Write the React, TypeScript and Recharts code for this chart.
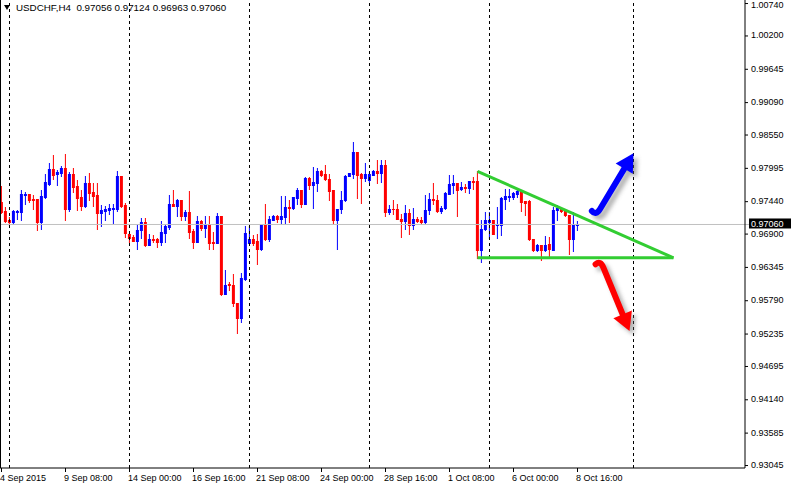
import { ComposedChart, Bar, XAxis, YAxis, ReferenceLine } from 'recharts'

const SYMBOL = 'USDCHF,H4'
const LAST_BAR = ['0.97056', '0.97124', '0.96963', '0.97060']

// open, high, low, close per H4 bar, starting 4 Sep 2015 16:00
const OHLC: [number, number, number, number][] = [
  [0.97433, 0.97695, 0.9725, 0.97267], [0.97278, 0.9735, 0.971, 0.97117], [0.97128, 0.97183, 0.97044, 0.971],
  [0.971, 0.97306, 0.97072, 0.97278], [0.97267, 0.97306, 0.97155, 0.97278], [0.97267, 0.97628, 0.97128, 0.97561],
  [0.97556, 0.976, 0.97406, 0.97567], [0.97561, 0.97561, 0.97433, 0.97461], [0.97489, 0.97545, 0.97311, 0.97467],
  [0.97478, 0.97478, 0.96961, 0.971], [0.971, 0.97639, 0.96983, 0.97528], [0.97517, 0.97906, 0.975, 0.97761],
  [0.97739, 0.98084, 0.97711, 0.97978], [0.97978, 0.98212, 0.97817, 0.97884], [0.979, 0.97962, 0.97723, 0.97928],
  [0.97917, 0.98028, 0.97867, 0.97995], [0.97995, 0.98228, 0.97128, 0.97311], [0.97311, 0.97934, 0.97278, 0.97895],
  [0.97895, 0.97995, 0.97595, 0.97684], [0.97695, 0.97795, 0.97306, 0.975], [0.97511, 0.97628, 0.97306, 0.97367],
  [0.97367, 0.97862, 0.9735, 0.97745], [0.97745, 0.97923, 0.97461, 0.97584], [0.97595, 0.9775, 0.97361, 0.97533],
  [0.97545, 0.97756, 0.96983, 0.97244], [0.97244, 0.97378, 0.97027, 0.97294], [0.97283, 0.97361, 0.97128, 0.97311],
  [0.97294, 0.97406, 0.97228, 0.97328], [0.97317, 0.97406, 0.97089, 0.97328], [0.97311, 0.97945, 0.97283, 0.97862],
  [0.97862, 0.97862, 0.9735, 0.97367], [0.97378, 0.97417, 0.9685, 0.96916], [0.96905, 0.96916, 0.96761, 0.96833],
  [0.9685, 0.96888, 0.96783, 0.96783], [0.96783, 0.97072, 0.9665, 0.96972], [0.96961, 0.97172, 0.96833, 0.97094],
  [0.97094, 0.97172, 0.96694, 0.96711], [0.96716, 0.96894, 0.96716, 0.9681], [0.96816, 0.96882, 0.96761, 0.96794],
  [0.96816, 0.96838, 0.96683, 0.96766], [0.96766, 0.97111, 0.96716, 0.96927], [0.96916, 0.97072, 0.96766, 0.97027],
  [0.97011, 0.97545, 0.96977, 0.97394], [0.97394, 0.97628, 0.97361, 0.97367], [0.97361, 0.97478, 0.97194, 0.97461],
  [0.97461, 0.97461, 0.97128, 0.97194], [0.97194, 0.973, 0.97128, 0.97261], [0.97261, 0.97611, 0.96838, 0.96927],
  [0.96944, 0.96983, 0.96666, 0.96761], [0.96761, 0.97194, 0.96761, 0.97111], [0.97111, 0.97128, 0.96961, 0.96994],
  [0.96994, 0.97194, 0.9685, 0.97061], [0.97061, 0.97194, 0.96655, 0.96744], [0.96766, 0.96927, 0.96655, 0.96749],
  [0.96744, 0.97244, 0.96744, 0.97194], [0.97194, 0.97194, 0.95893, 0.9591], [0.95899, 0.96294, 0.95899, 0.9606],
  [0.96071, 0.96105, 0.95966, 0.96049], [0.9606, 0.96238, 0.95699, 0.95749], [0.9576, 0.9576, 0.95248, 0.95499],
  [0.95499, 0.96249, 0.95432, 0.96166], [0.96149, 0.97027, 0.96132, 0.9691], [0.96749, 0.97027, 0.96749, 0.96826],
  [0.96826, 0.96877, 0.96711, 0.96755], [0.96777, 0.96894, 0.96399, 0.9665], [0.96644, 0.97044, 0.96627, 0.97044],
  [0.97044, 0.97406, 0.96794, 0.96822], [0.96822, 0.97194, 0.96777, 0.97155], [0.97139, 0.97211, 0.97128, 0.97194],
  [0.97194, 0.97211, 0.971, 0.9715], [0.9715, 0.97528, 0.97072, 0.97194], [0.97183, 0.97528, 0.97072, 0.9735],
  [0.97345, 0.97461, 0.971, 0.97333], [0.97339, 0.97517, 0.97322, 0.97517], [0.97506, 0.97667, 0.97406, 0.97628],
  [0.97628, 0.97639, 0.9735, 0.97406], [0.97406, 0.9785, 0.97406, 0.97834], [0.97834, 0.9785, 0.97656, 0.97711],
  [0.97711, 0.98017, 0.97333, 0.97767], [0.9775, 0.98006, 0.97611, 0.97945], [0.97945, 0.97973, 0.97867, 0.97878],
  [0.97895, 0.98045, 0.97795, 0.97811], [0.97823, 0.97906, 0.97461, 0.97617], [0.97628, 0.97628, 0.97072, 0.97128],
  [0.97128, 0.97322, 0.96644, 0.97322], [0.97317, 0.97617, 0.9725, 0.97472], [0.97461, 0.97878, 0.97445, 0.97862],
  [0.97862, 0.97923, 0.97862, 0.97923], [0.97906, 0.98434, 0.97834, 0.98267], [0.98267, 0.98267, 0.975, 0.97889],
  [0.97906, 0.97917, 0.97417, 0.97834], [0.97834, 0.98089, 0.97784, 0.97895], [0.97806, 0.97934, 0.97767, 0.97895],
  [0.97889, 0.97973, 0.97878, 0.97945], [0.97945, 0.98139, 0.97756, 0.97922], [0.97917, 0.98128, 0.97767, 0.98045],
  [0.98045, 0.98128, 0.972, 0.97267], [0.97267, 0.97378, 0.97239, 0.97322], [0.97322, 0.97472, 0.97239, 0.97311],
  [0.97322, 0.97405, 0.97144, 0.97155], [0.97155, 0.97239, 0.9685, 0.97111], [0.97116, 0.97378, 0.96978, 0.9725],
  [0.9725, 0.97322, 0.96905, 0.97044], [0.97044, 0.97339, 0.96989, 0.97155], [0.97155, 0.97183, 0.971, 0.97116],
  [0.97127, 0.97183, 0.97072, 0.971], [0.971, 0.97544, 0.97083, 0.97306], [0.97306, 0.97589, 0.97228, 0.97489],
  [0.97489, 0.9775, 0.97394, 0.97461], [0.97472, 0.97544, 0.97267, 0.97278], [0.97278, 0.97361, 0.9725, 0.97333],
  [0.97333, 0.976, 0.97322, 0.97583], [0.97572, 0.9788, 0.97561, 0.97739], [0.97722, 0.97889, 0.97583, 0.9775],
  [0.9775, 0.9775, 0.97194, 0.97639], [0.97656, 0.97767, 0.97639, 0.97683], [0.97683, 0.97739, 0.976, 0.97672],
  [0.97672, 0.97778, 0.97583, 0.97778], [0.97778, 0.9785, 0.97656, 0.97767], [0.97778, 0.97945, 0.96505, 0.96627],
  [0.96627, 0.97127, 0.96433, 0.96988], [0.96977, 0.97266, 0.96961, 0.97138], [0.971, 0.97266, 0.96838, 0.97127],
  [0.97127, 0.97138, 0.96894, 0.96905], [0.97044, 0.9735, 0.96838, 0.97072], [0.97055, 0.97516, 0.96877, 0.975],
  [0.97478, 0.97644, 0.97322, 0.97533], [0.97516, 0.97655, 0.9745, 0.97533], [0.97516, 0.976, 0.97489, 0.97583],
  [0.97561, 0.97655, 0.97516, 0.97617], [0.97617, 0.97639, 0.97283, 0.97433], [0.9745, 0.9745, 0.97211, 0.97422],
  [0.9745, 0.97461, 0.96805, 0.96816], [0.96822, 0.96822, 0.96616, 0.96627], [0.96627, 0.96738, 0.96616, 0.9671],
  [0.9671, 0.9671, 0.96461, 0.96627], [0.96627, 0.96861, 0.96616, 0.96721], [0.96738, 0.9685, 0.96505, 0.96655],
  [0.96638, 0.9735, 0.96638, 0.97294], [0.97294, 0.97377, 0.97138, 0.97333], [0.97338, 0.9735, 0.97266, 0.97277],
  [0.97294, 0.97305, 0.97194, 0.97211], [0.97211, 0.97222, 0.96561, 0.96816], [0.96816, 0.97266, 0.96616, 0.97055],
  [0.97056, 0.97124, 0.96963, 0.9706],
]

const SLOTS = 186 // bars plus empty space on the right
const TIME_TICKS = [0, 16, 32, 48, 64, 80, 96, 112, 128, 144]
const TIME_LABELS = [
  '4 Sep 2015', '9 Sep 08:00', '14 Sep 00:00', '16 Sep 16:00', '21 Sep 08:00',
  '24 Sep 00:00', '28 Sep 16:00', '1 Oct 08:00', '6 Oct 00:00', '8 Oct 16:00',
]
const PRICE_TICKS = [
  1.0074, 1.002, 0.99645, 0.9909, 0.9855, 0.97995, 0.9744, 0.969,
  0.96345, 0.9579, 0.95235, 0.94695, 0.9414, 0.93585, 0.93045,
]
const PRICE_DOMAIN: [number, number] = [0.93004, 1.00799]
const SEPARATORS = [2, 32, 62, 92, 122, 158]
const CURRENT_PRICE = 0.9706
const RESISTANCE = [{ x: 119, y: 0.97945 }, { x: 168, y: 0.96505 }]
const SUPPORT = [{ x: 119, y: 0.96505 }, { x: 168, y: 0.96505 }]
const UP_ARROW = [{ x: 149, y: 0.97247 }, { x: 158, y: 0.98246 }]
const DOWN_ARROW = [{ x: 150, y: 0.96419 }, { x: 157, y: 0.95286 }]

const BULL = '#0000ff'
const BEAR = '#ff0000'
const FONT = '"Liberation Sans", Arial, sans-serif'

const data = Array.from({ length: SLOTS }, (_, i) => {
  const c = OHLC[i]
  if (!c) return { idx: i, range: null }
  return { idx: i, open: c[0], high: c[1], low: c[2], close: c[3], range: [c[2], c[1]] }
})

function Candle(props: any) {
  const { x, y, width, height, payload } = props
  if (!payload || payload.range == null) return null
  const lo = payload.low
  const hi = payload.high
  const cx = x + width / 2
  const py = (p: number) => (hi === lo ? y : y + ((hi - p) / (hi - lo)) * height)
  const up = payload.close >= payload.open
  const color = up ? BULL : BEAR
  const wTop = Math.round(y)
  const wBot = Math.round(y + height)
  const bTop = Math.round(py(Math.max(payload.open, payload.close)))
  const bBot = Math.round(py(Math.min(payload.open, payload.close)))
  return (
    <g>
      <rect x={cx - 0.5} y={wTop} width={1} height={wBot - wTop + 1} fill={color} />
      <rect x={cx - 1.5} y={bTop} width={3} height={bBot - bTop + 1} fill={color} />
    </g>
  )
}

function arrowShape(color: string, hook: number, id: string) {
  return (p: any) => {
    const { x1, y1, x2, y2 } = p
    const dx = x2 - x1
    const dy = y2 - y1
    const len = Math.hypot(dx, dy) || 1
    const ux = dx / len
    const uy = dy / len
    const nx = -uy
    const ny = ux
    const headLen = 18
    const headW = 10
    const bx = x2 - ux * headLen
    const by = y2 - uy * headLen
    const hx = x1 + hook * nx * 6 - ux * 1
    const hy = y1 + hook * ny * 6 - uy * 1
    const shaft = `M ${hx} ${hy} Q ${x1 - ux * 3} ${y1 - uy * 3} ${x1 + ux * 5} ${y1 + uy * 5} L ${bx + ux * 3} ${by + uy * 3}`
    const head = `M ${x2} ${y2} L ${bx + nx * headW} ${by + ny * headW} L ${bx - nx * headW} ${by - ny * headW} Z`
    return (
      <g>
        <defs>
          <filter id={id} x="-50%" y="-50%" width="200%" height="200%">
            <feGaussianBlur stdDeviation="2" />
          </filter>
        </defs>
        <g transform="translate(4,4)" opacity={0.5} filter={`url(#${id})`}>
          <path d={shaft} stroke="#666" strokeWidth={6} fill="none" strokeLinecap="round" />
          <path d={head} fill="#666" />
        </g>
        <path d={shaft} stroke={color} strokeWidth={6} fill="none" strokeLinecap="round" strokeLinejoin="round" />
        <path d={head} fill={color} />
      </g>
    )
  }
}

function TimeTick(props: any) {
  const { x, y, payload } = props
  const k = TIME_TICKS.indexOf(payload.value)
  return (
    <text x={x - 1.5} y={y + 7} fontSize={9} fontFamily={FONT} fill="#000" textAnchor="start">
      {TIME_LABELS[k]}
    </text>
  )
}

function PriceTick(props: any) {
  const { x, y, payload } = props
  // keep the topmost label inside the picture
  return (
    <text x={x} y={Math.max(y + 2.5, 8)} fontSize={9} fontFamily={FONT} fill="#000" textAnchor="start">
      {payload.value.toFixed(5)}
    </text>
  )
}

function PriceBox(props: any) {
  const vb = props.viewBox
  if (!vb) return null
  const x = vb.x + vb.width
  const y = vb.y
  return (
    <g>
      <line x1={x} y1={y} x2={x + 4} y2={y} stroke="#c0c0c0" />
      <rect x={x + 4} y={y - 6} width={42} height={10} fill="#000" />
      <text x={x + 6} y={y + 2.5} fontSize={9} fontFamily={FONT} fill="#fff">
        {CURRENT_PRICE.toFixed(5)}
      </text>
    </g>
  )
}

export default function App() {
  return (
    <div style={{ position: 'absolute', left: 0, top: 0, width: 791, height: 486, background: '#fff' }}>
      <ComposedChart width={791} height={486} data={data} margin={{ top: 0, right: 0, bottom: 0, left: 0 }}>
        <XAxis
          dataKey="idx"
          type="category"
          height={18}
          padding={{ left: -0.5, right: 1.5 }}
          ticks={TIME_TICKS}
          interval={0}
          tickSize={4}
          tickMargin={2}
          axisLine={{ stroke: '#000' }}
          tickLine={{ stroke: '#000' }}
          tick={<TimeTick />}
        />
        <YAxis
          orientation="right"
          width={46}
          domain={PRICE_DOMAIN}
          allowDataOverflow
          ticks={PRICE_TICKS}
          interval={0}
          tickSize={3}
          tickMargin={3}
          axisLine={{ stroke: '#000' }}
          tickLine={{ stroke: '#000' }}
          tick={<PriceTick />}
        />
        {SEPARATORS.map((s) => (
          <ReferenceLine key={s} x={s} stroke="#000" strokeDasharray="3 3" ifOverflow="visible" />
        ))}
        <ReferenceLine y={CURRENT_PRICE} stroke="#c0c0c0" label={<PriceBox />} />
        <Bar dataKey="range" isAnimationActive={false} shape={<Candle />} />
        <ReferenceLine segment={RESISTANCE} stroke="#32cd32" strokeWidth={3} ifOverflow="visible" />
        <ReferenceLine segment={SUPPORT} stroke="#32cd32" strokeWidth={3} ifOverflow="visible" />
        <ReferenceLine segment={UP_ARROW} ifOverflow="visible" shape={arrowShape(BULL, -1, 'shUp')} />
        <ReferenceLine segment={DOWN_ARROW} ifOverflow="visible" shape={arrowShape(BEAR, 1, 'shDown')} />
      </ComposedChart>
      <div style={{ position: 'absolute', left: 0, top: 0, width: 1, height: 468, background: '#000' }} />
      <div
        style={{
          position: 'absolute', left: 4, top: 1, fontFamily: FONT, fontSize: 9.8,
          whiteSpace: 'pre', color: '#000', display: 'flex', alignItems: 'center', lineHeight: '14px',
        }}
      >
        <svg width={8} height={6} style={{ marginRight: 4 }}>
          <polygon points="0,0 6,0 3,5" fill="#000" />
        </svg>
        <span>{`${SYMBOL}  ${LAST_BAR.join(' ')}`}</span>
      </div>
    </div>
  )
}
